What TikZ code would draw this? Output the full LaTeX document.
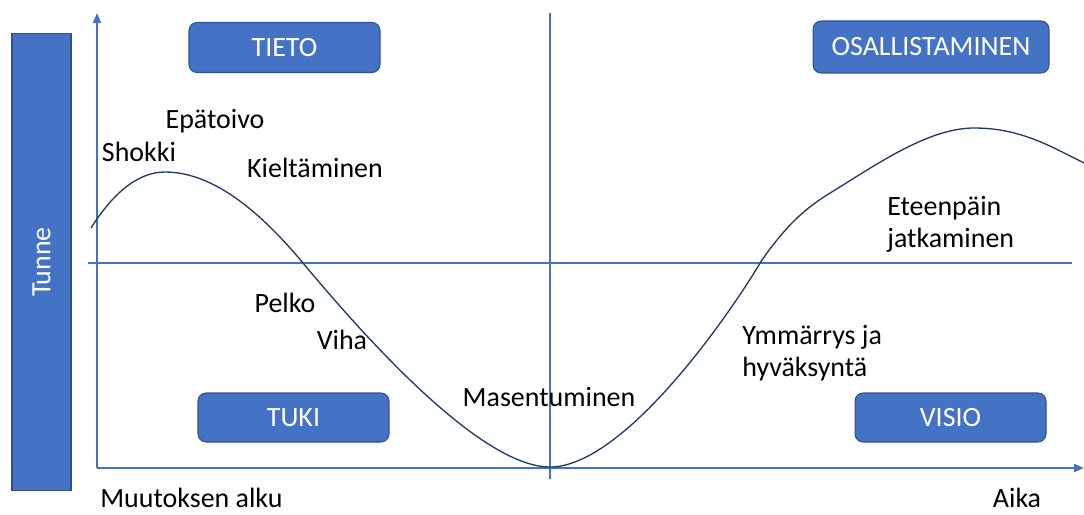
\documentclass[tikz,border=0pt]{standalone}
\usepackage{fontspec}
\setmainfont{Carlito}
\usetikzlibrary{arrows.meta}

\definecolor{boxblue}{HTML}{4472C4}
\definecolor{boxedge}{HTML}{2F528F}
\definecolor{curvenavy}{HTML}{203864}

\tikzset{
  phasebox/.style={fill=boxblue, draw=boxedge, line width=0.6pt, rounded corners=0.16cm,
    text=white, font=\fontsize{15.9}{19}\selectfont},
  stage/.style={font=\fontsize{15.9}{18}\selectfont, text height=1.5ex, text depth=.25ex, inner sep=0pt},
  axisline/.style={boxblue, line width=1.1pt},
}

\begin{document}
\begin{tikzpicture}[x=0.02cm, y=-0.02cm, >={Triangle[length=0.2cm, width=0.16cm]}]
    \useasboundingbox (0,0) rectangle (1084,514);

    % Feeling bar on the left
    \node[phasebox, rounded corners=0pt, rotate=90, minimum width=9.16cm, minimum height=1.18cm] (tunne) at (41.5,262) {Tunne};

    % Axes
    \coordinate (origin) at (97,468);
    \coordinate (ytop) at (97,13);
    \coordinate (xend) at (1084,468);
    \draw[axisline, ->] (origin) -- (ytop);
    \draw[axisline, ->] (origin) -- (xend);

    % Quadrant lines
    \coordinate (hleft) at (88,263);
    \coordinate (hright) at (1072,263);
    \coordinate (vtop) at (550,13);
    \coordinate (vbottom) at (550,479);
    \draw[axisline] (hleft) -- (hright);
    \draw[axisline] (vtop) -- (vbottom);

    % Change curve
    \draw[curvenavy, line width=0.75pt] (91,228)
      .. controls (115,190) and (140,172) .. (165,172)
      .. controls (215,172) and (263,215) .. (303,263)
      .. controls (363,335) and (480,467) .. (550,467)
      .. controls (620,467) and (720,330) .. (762,260)
      .. controls (790,220) and (810,205) .. (835,190)
      .. controls (880,162) and (930,128) .. (974,128)
      .. controls (1020,128) and (1050,146) .. (1084,163);

    % Phase boxes
    \node[phasebox, minimum width=3.82cm, minimum height=1cm] (tieto) at (284.5,47.5) {TIETO};
    \node[phasebox, minimum width=4.72cm, minimum height=1.04cm] (osallistaminen) at (931,47) {OSALLISTAMINEN};
    \node[phasebox, minimum width=3.82cm, minimum height=0.98cm] (tuki) at (293.5,417.5) {TUKI};
    \node[phasebox, minimum width=3.82cm, minimum height=0.98cm] (visio) at (950.5,417.5) {VISIO};

    % Stages along the curve
    \foreach \x/\y/\nm/\txt in {139/156/shokki/Shokki, 215/123/epatoivo/Epätoivo,
        315/172/kieltaminen/Kieltäminen, 285/307/pelko/Pelko, 342/344/viha/Viha,
        549/401/masentuminen/Masentuminen} {
      \node[stage] (\nm) at (\x,\y) {\txt};
    }
    \node[stage, text height=, text depth=, align=left, anchor=west] (ymmarrys) at (742,353) {Ymmärrys ja\\hyväksyntä};
    \node[stage, text height=, text depth=, align=left, anchor=west] (eteenpain) at (887,224.5) {Eteenpäin\\jatkaminen};

    % Axis captions
    \node[stage, anchor=west] (alku) at (100,502) {Muutoksen alku};
    \node[stage, anchor=base] (aika) at (1017,507) {Aika};

\end{tikzpicture}
\end{document}
